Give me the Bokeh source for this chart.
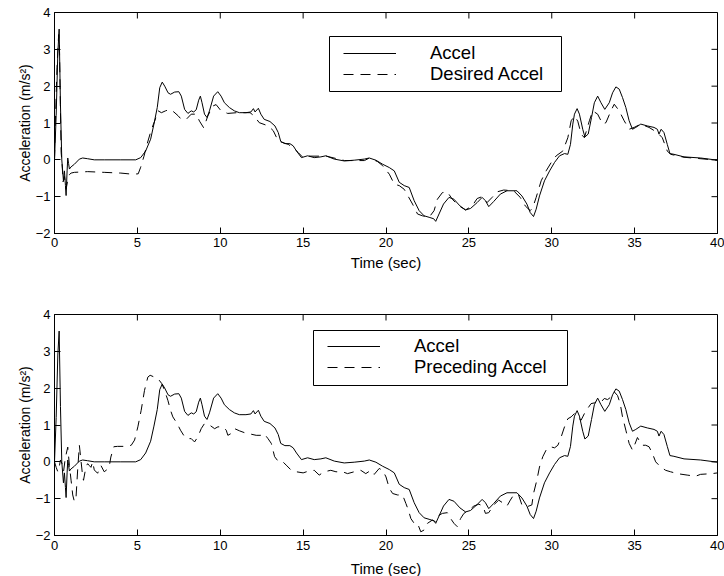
import math
from bokeh.plotting import figure
from bokeh.models import Legend, LegendItem, FixedTicker, Range1d, BoxAnnotation
from bokeh.layouts import column
from bokeh.embed import file_html
from bokeh.resources import INLINE

# ---------------- data ----------------
accel_t = [0.0, 0.1, 0.2, 0.28, 0.36, 0.44, 0.54, 0.60, 0.66, 0.70, 0.76, 0.80, 0.85, 0.90,
           1.00, 1.20, 1.50, 1.70, 2.00, 2.40, 3.0, 4.0, 4.9, 5.2, 5.5, 5.8, 6.0, 6.2, 6.35,
           6.5, 6.65, 6.85, 7.0, 7.25, 7.5, 7.65, 7.85, 8.05, 8.25, 8.4, 8.55, 8.7, 8.8, 8.9,
           9.05, 9.2, 9.35, 9.6, 9.85, 10.05, 10.25, 10.55, 10.85, 11.15, 11.55, 11.85, 12.0,
           12.1, 12.3, 12.45, 12.65, 13.0, 13.3, 13.5, 13.65, 13.9, 14.2, 14.4, 14.6, 14.9,
           15.27, 15.67, 16.07, 16.37, 16.88, 17.48, 18.08, 18.69, 18.99, 19.39, 19.8, 20.2,
           20.5, 20.8, 21.1, 21.4, 21.7, 22.0, 22.3, 22.6, 22.88, 23.0, 23.2, 23.47, 23.8,
           24.1, 24.46, 24.8, 25.1, 25.5, 25.8, 26.0, 26.2, 26.5, 26.9, 27.3, 27.9, 28.2, 28.5,
           28.7, 28.9, 29.06, 29.26, 29.56, 29.87, 30.17, 30.47, 30.77, 30.97, 31.13, 31.27,
           31.37, 31.53, 31.67, 31.87, 32.0, 32.2, 32.4, 32.57, 32.77, 32.97, 33.2, 33.47,
           33.67, 33.87, 34.07, 34.27, 34.47, 34.67, 34.87, 35.07, 35.37, 35.77, 36.17, 36.37,
           36.47, 36.6, 36.77, 36.97, 37.13, 37.37, 37.98, 38.98, 40.0]
accel_v = [0.0, 1.2, 2.9, 3.55, 1.5, 0.0, -0.57, -0.3, -0.7, -0.97, -0.3, 0.05, -0.1, -0.25,
           -0.19, -0.12, 0.02, 0.05, 0.03, 0.0, 0.0, 0.0, 0.0, 0.06, 0.24, 0.56, 0.97, 1.42, 1.96,
           2.11, 2.0, 1.82, 1.78, 1.84, 1.85, 1.73, 1.37, 1.26, 1.33, 1.3, 1.36, 1.62, 1.73, 1.55,
           1.24, 1.15, 1.33, 1.73, 1.85, 1.73, 1.55, 1.42, 1.33, 1.28, 1.28, 1.3, 1.39,
           1.3, 1.4, 1.24, 1.1, 1.04, 0.92, 0.74, 0.5, 0.44, 0.44, 0.38, 0.24, 0.06,
           0.11, 0.06, 0.08, 0.11, 0.02, -0.03, -0.01, 0.02, 0.05, -0.01, -0.12, -0.21,
           -0.3, -0.61, -0.7, -0.75, -1.11, -1.38, -1.52, -1.56, -1.6, -1.67, -1.47, -1.2, -1.02,
           -1.07, -1.25, -1.36, -1.32, -1.16, -1.02, -1.11, -1.27, -1.13, -0.93, -0.84, -0.84, -0.98, -1.2,
           -1.43, -1.54, -1.34, -0.98, -0.57, -0.3, -0.07, 0.11, 0.17, 0.15, 0.42, 0.97,
           1.24, 1.39, 1.24, 0.83, 0.62, 0.7, 1.15, 1.55, 1.73, 1.55, 1.37, 1.55,
           1.82, 1.98, 1.92, 1.69, 1.42, 1.06, 0.83, 0.88, 0.97, 0.92, 0.88, 0.83,
           0.7, 0.83, 0.74, 0.42, 0.17, 0.15, 0.08, 0.05, -0.01]

desired_t = [0.0, 0.05, 0.15, 0.25, 0.3, 0.4, 0.45, 0.52, 0.6, 0.7, 0.8, 0.9, 1.0, 1.2, 2.0,
             3.0, 4.0, 4.7, 5.05, 5.2, 5.4, 5.6, 5.85, 6.05, 6.25, 6.45, 6.7, 6.95, 7.2, 7.45,
             7.65, 7.95, 8.25, 8.55, 8.75, 9.0, 9.25, 9.55, 9.75, 10.05, 10.45, 11.0, 11.8,
             12.05, 12.35, 12.9, 13.2, 13.5, 14.1, 14.4, 14.7, 15.0, 15.27, 16.4, 17.5, 18.7,
             19.0, 19.5, 19.8, 20.2, 20.5, 20.8, 21.1, 21.6, 21.9, 22.2, 22.6, 22.9, 23.1,
             23.4, 23.7, 24.0, 24.4, 24.8, 25.2, 25.5, 25.8, 26.1, 26.4, 26.7, 27.1, 27.7,
             28.1, 28.4, 28.7, 28.85, 29.06, 29.36, 29.66, 29.97, 30.27, 30.67, 30.97, 31.17,
             31.37, 31.57, 31.77, 31.97, 32.27, 32.47, 32.77, 33.07, 33.27, 33.57, 33.77,
             34.07, 34.37, 34.67, 34.97, 35.37, 35.87, 36.37, 36.67, 36.97, 37.17, 37.98, 40.0]
desired_v = [0.0, 1.0, 2.5, 3.4, 3.0, 0.2, -0.05, -0.6, -0.45, -0.8, -0.55, -0.4, -0.36, -0.34, -0.32,
             -0.34, -0.36, -0.39, -0.38, -0.2, 0.1, 0.45, 0.83, 1.06, 1.33, 1.28, 1.33, 1.37, 1.3, 1.2,
             1.1, 1.1, 1.24, 1.24, 1.05, 0.87, 1.19, 1.46, 1.5, 1.33, 1.26, 1.28, 1.28,
             1.19, 1.01, 0.92, 0.79, 0.51, 0.42, 0.33, 0.2, 0.06, 0.1, 0.1, -0.02, -0.02,
             0.05, -0.05, -0.16, -0.39, -0.66, -0.7, -0.8, -1.2, -1.47, -1.52, -1.56, -1.38, -1.07,
             -0.89, -0.87, -1.07, -1.25, -1.36, -1.25, -1.05, -1.0, -1.16, -1.02, -0.87, -0.82, -0.84,
             -1.02, -1.25, -1.38, -1.3, -1.02, -0.57, -0.3, -0.07, 0.11, 0.24, 0.6, 1.06,
             1.19, 1.05, 0.7, 0.6, 1.06, 1.33, 1.24, 0.97, 1.01, 1.33, 1.51,
             1.33, 1.06, 0.83, 0.88, 0.97, 0.88, 0.74, 0.6, 0.24, 0.15, 0.07, -0.01]

preceding_t = [0.0, 0.1, 0.2, 0.3, 0.36, 0.45, 0.55, 0.65, 0.8, 0.9, 1.0, 1.1, 1.2, 1.3, 1.4,
               1.5, 1.57, 1.7, 1.75, 1.9, 2.0, 2.1, 2.2, 2.3, 2.4, 2.6, 2.8, 3.0, 3.2, 3.3, 3.4,
               3.58, 3.8, 4.33, 4.63, 4.83, 5.03, 5.23, 5.43, 5.63, 5.77, 6.03, 6.24, 6.48, 6.64,
               6.84, 7.0, 7.14, 7.4, 7.6, 7.85, 8.05, 8.25, 8.45, 8.65, 8.85, 9.05, 9.35, 9.66,
               9.86, 10.16, 10.36, 10.46, 10.66, 10.87, 11.17, 11.47, 11.87, 12.17, 12.43, 12.64,
               12.88, 13.08, 13.28, 13.52, 13.78, 13.98, 14.29, 14.59, 15.0, 15.27, 15.67, 15.97,
               16.27, 16.67, 16.98, 17.38, 17.68, 18.08, 18.48, 18.78, 19.09, 19.29, 19.59, 19.8,
               20.0, 20.2, 20.4, 20.7, 21.0, 21.2, 21.35, 21.5, 21.7, 21.9, 22.1, 22.3, 22.5, 22.8,
               23.0, 23.2, 23.4, 23.7, 23.9, 24.1, 24.3, 24.5, 24.7, 25.0, 25.3, 25.6, 25.85, 26.0,
               26.2, 26.5, 26.8, 27.1, 27.3, 27.5, 27.7, 28.0, 28.2, 28.5, 28.8, 28.9, 29.1, 29.26,
               29.46, 29.66, 29.92, 30.17, 30.37, 30.57, 30.77, 30.97, 31.17, 31.37, 31.57, 31.77,
               31.97, 32.17, 32.37, 32.57, 32.77, 32.97, 33.17, 33.37, 33.57, 33.77, 33.97, 34.13,
               34.27, 34.47, 34.67, 34.87, 35.07, 35.17, 35.33, 35.47, 35.67, 35.87, 36.07, 36.27,
               36.57, 36.87, 37.17, 37.57, 38.17, 38.68, 38.98, 39.68, 40.0]
preceding_v = [0.0, -0.15, -0.27, -0.1, 0.05, -0.05, -0.25, 0.1, 0.4, -0.1, -0.5, -0.9, -1.08, -0.95, -0.2,
               0.45, 0.15, -0.4, -0.5, -0.13, -0.05, -0.1, -0.15, 0.0, -0.22, -0.31, -0.1, -0.27, -0.2, -0.13, 0.13,
               0.41, 0.42, 0.42, 0.45, 0.59, 0.95, 1.4, 1.94, 2.3, 2.35, 2.3, 2.26, 2.12, 1.94,
               1.67, 1.4, 1.22, 1.04, 0.86, 0.68, 0.63, 0.63, 0.54, 0.68, 0.9, 1.04, 1.0, 0.9,
               0.95, 0.95, 0.86, 0.72, 0.77, 0.9, 0.84, 0.79, 0.75, 0.72, 0.72, 0.77,
               0.63, 0.5, 0.14, 0.0, 0.0, -0.09, -0.23, -0.27, -0.3, -0.26, -0.23, -0.36,
               -0.27, -0.23, -0.27, -0.27, -0.32, -0.27, -0.23, -0.32, -0.23, -0.34, -0.18, -0.23,
               -0.41, -0.72, -0.86, -0.9, -0.9, -1.13, -1.31, -1.54, -1.67, -1.67, -1.9, -1.85, -1.67, -1.58,
               -1.63, -1.45, -1.4, -1.38, -1.54, -1.67, -1.76, -1.54, -1.4, -1.31, -1.2, -1.15, -1.2, -1.4,
               -1.38, -1.17, -1.04, -1.13, -1.2, -1.04, -0.9, -0.9, -1.17, -1.22, -1.17, -0.86, -0.5, -0.14,
               0.14, 0.32, 0.41, 0.38, 0.45, 0.68, 0.95, 1.17, 1.22, 1.31, 1.2, 1.13,
               1.31, 1.45, 1.58, 1.6, 1.65, 1.62, 1.72, 1.69, 1.76, 1.9, 1.8, 1.58,
               1.22, 0.86, 0.5, 0.32, 0.54, 0.66, 0.54, 0.45, 0.45, 0.41, 0.23, 0.0,
               -0.14, -0.23, -0.27, -0.32, -0.36, -0.39, -0.34, -0.32, -0.3]

x_ticks = [0, 5, 10, 15, 20, 25, 30, 35, 40]
y_ticks = [-2, -1, 0, 1, 2, 3, 4]
y_tick_labels = ["\u22122", "\u22121", "0", "1", "2", "3", "4"]
x_min, x_max = 0, 40
y_min, y_max = -2, 4
x_label = "Time (sec)"
y_label = "Acceleration (m/s\u00b2)"

FONT = "Liberation Sans"
DASH = "10 7"
TICK_LEN = 6


def style_axis(ax, tick_standoff):
    ax.major_tick_in = TICK_LEN
    ax.major_tick_out = 0
    ax.minor_tick_line_color = None
    ax.axis_line_color = "black"
    ax.major_tick_line_color = "black"
    ax.major_label_text_font = FONT
    ax.major_label_text_color = "black"
    ax.major_label_text_font_size = "13px"
    ax.major_label_standoff = tick_standoff
    ax.axis_label_text_font = FONT
    ax.axis_label_text_font_style = "normal"
    ax.axis_label_text_color = "black"


def make_legend(p, renderer, label, loc):
    lg = Legend(items=[LegendItem(label=label, renderers=[renderer])], location=loc)
    lg.label_text_font = FONT
    lg.label_text_font_size = "18.5px"
    lg.label_text_color = "black"
    lg.glyph_width = 53
    lg.glyph_height = 16
    lg.label_height = 16
    lg.label_standoff = 34
    lg.padding = 0
    lg.spacing = 0
    lg.margin = 0
    lg.border_line_color = None
    lg.background_fill_alpha = 0.0
    p.add_layout(lg)


def make_fig(top_border, bottom_border, x_tick_standoff, x_label_standoff,
             series_t, series_v, label2, box, rows_x, rows_y):
    p = figure(frame_width=663, frame_height=221,
               x_range=Range1d(x_min, x_max), y_range=Range1d(y_min, y_max),
               output_backend="svg", toolbar_location=None,
               min_border_left=54, min_border_right=7,
               min_border_top=top_border, min_border_bottom=bottom_border)
    p.xgrid.visible = False
    p.ygrid.visible = False
    p.outline_line_color = "black"
    p.outline_line_alpha = 1.0
    p.background_fill_color = "white"
    p.border_fill_color = "white"

    p.xaxis.ticker = FixedTicker(ticks=x_ticks)
    p.yaxis.ticker = FixedTicker(ticks=y_ticks)
    p.yaxis.major_label_overrides = {t: s for t, s in zip(y_ticks, y_tick_labels)}
    style_axis(p.xaxis[0], x_tick_standoff)
    style_axis(p.yaxis[0], 4)
    p.xaxis.axis_label = x_label
    p.xaxis.axis_label_text_font_size = "15px"
    p.xaxis.axis_label_standoff = x_label_standoff
    p.yaxis.axis_label = y_label
    p.yaxis.axis_label_text_font_size = "14px"
    p.yaxis.axis_label_standoff = 0

    # inward ticks on the top and right edges of the box
    p.ray(x=x_ticks, y=[y_max] * len(x_ticks), length=TICK_LEN, length_units="screen",
          angle=-math.pi / 2, line_color="black", line_width=1)
    p.ray(x=[x_max] * len(y_ticks), y=y_ticks, length=TICK_LEN, length_units="screen",
          angle=math.pi, line_color="black", line_width=1)

    r1 = p.line(accel_t, accel_v, line_color="black", line_width=1)
    r2 = p.line(series_t, series_v, line_color="black", line_width=1, line_dash=DASH)

    left, right, top, bottom = box
    p.add_layout(BoxAnnotation(left=left, right=right, top=top, bottom=bottom,
                               left_units="screen", right_units="screen",
                               top_units="screen", bottom_units="screen",
                               fill_color="white", fill_alpha=1.0,
                               line_color="black", line_width=1, line_alpha=1.0))
    make_legend(p, r1, "Accel", (rows_x, rows_y[0]))
    make_legend(p, r2, label2, (rows_x, rows_y[1]))
    return p


p1 = make_fig(12, 57, 4, 4, desired_t, desired_v, "Desired Accel",
              (275, 507, 197, 142), 289, (169.5, 148.5))
p2 = make_fig(24, 41, 5, 7, preceding_t, preceding_v, "Preceding Accel",
              (259, 513, 205, 150), 273, (178, 157))

layout = column(p1, p2, spacing=0)
open("out.html", "w").write(file_html(layout, INLINE))
